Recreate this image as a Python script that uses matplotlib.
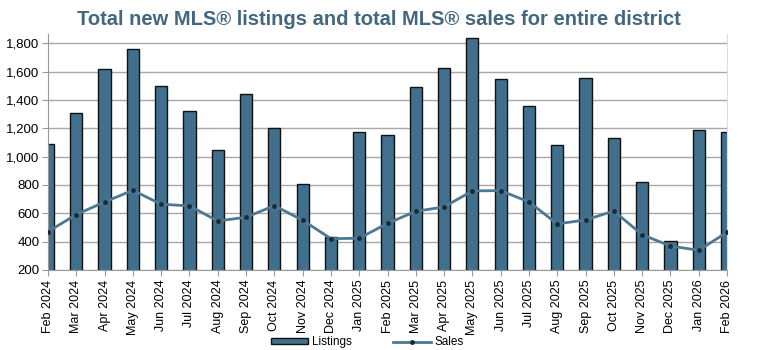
import matplotlib.pyplot as plt
from matplotlib.ticker import FuncFormatter

months = ['Feb 2024', 'Mar 2024', 'Apr 2024', 'May 2024', 'Jun 2024', 'Jul 2024',
          'Aug 2024', 'Sep 2024', 'Oct 2024', 'Nov 2024', 'Dec 2024', 'Jan 2025',
          'Feb 2025', 'Mar 2025', 'Apr 2025', 'May 2025', 'Jun 2025', 'Jul 2025',
          'Aug 2025', 'Sep 2025', 'Oct 2025', 'Nov 2025', 'Dec 2025', 'Jan 2026',
          'Feb 2026']
listings = [1087, 1311, 1619, 1758, 1496, 1320, 1045, 1440, 1205, 805, 433, 1172,
            1155, 1489, 1628, 1835, 1548, 1360, 1080, 1555, 1132, 821, 402, 1186,
            1176]
sales = [471, 591, 680, 762, 664, 652, 546, 572, 654, 551, 421, 424,
         529, 614, 645, 758, 760, 680, 525, 553, 616, 449, 369, 339,
         466]

plt.rcParams['font.family'] = ['Liberation Sans', 'DejaVu Sans']

fig = plt.figure(figsize=(7.57, 3.5), dpi=100)
ax = fig.add_axes([0.0634, 0.2286, 0.8970, 0.6743])

x = list(range(len(months)))
bars = ax.bar(x, listings, width=0.43, bottom=0, color='#41708e', edgecolor='#111111',
              linewidth=1, label='Listings', zorder=2)
line, = ax.plot(x, sales, color='#4d7893', linewidth=2, marker='o', markersize=2.5,
                markerfacecolor='#1b2b36', markeredgecolor='#1b2b36', label='Sales', zorder=3)

ax.set_xlim(0, len(months) - 1)
ax.set_ylim(200, 1865)
ax.set_yticks(range(200, 1801, 200))
ax.yaxis.set_major_formatter(FuncFormatter(lambda v, p: '{:,.0f}'.format(v)))
ax.set_xticks(x)
ax.set_xticklabels(months, rotation=90, fontsize=9)
ax.tick_params(axis='y', labelsize=9.5, length=4, color='#999999', pad=2)
ax.tick_params(axis='x', length=4, color='#999999', pad=3)
ax.grid(axis='y', color='#a8a8a8', linewidth=1, zorder=0)
ax.set_axisbelow(True)
for s in ['left', 'bottom']:
    ax.spines[s].set_color('#999999')
ax.spines['top'].set_visible(False)
ax.spines['right'].set_color('#dddddd')

fig.text(0.5, 0.943, 'Total new MLS® listings and total MLS® sales for entire district',
         ha='center', va='center', fontsize=14.5, fontweight='bold', color='#42677e')

fig.legend([bars, line], ['Listings', 'Sales'], loc='center',
           bbox_to_anchor=(0.485, 0.022), ncol=2, frameon=False,
           fontsize=8.5, handlelength=3.2, handleheight=0.5, handletextpad=0.3,
           columnspacing=3.5)

fig.savefig('out.png', dpi=100)
